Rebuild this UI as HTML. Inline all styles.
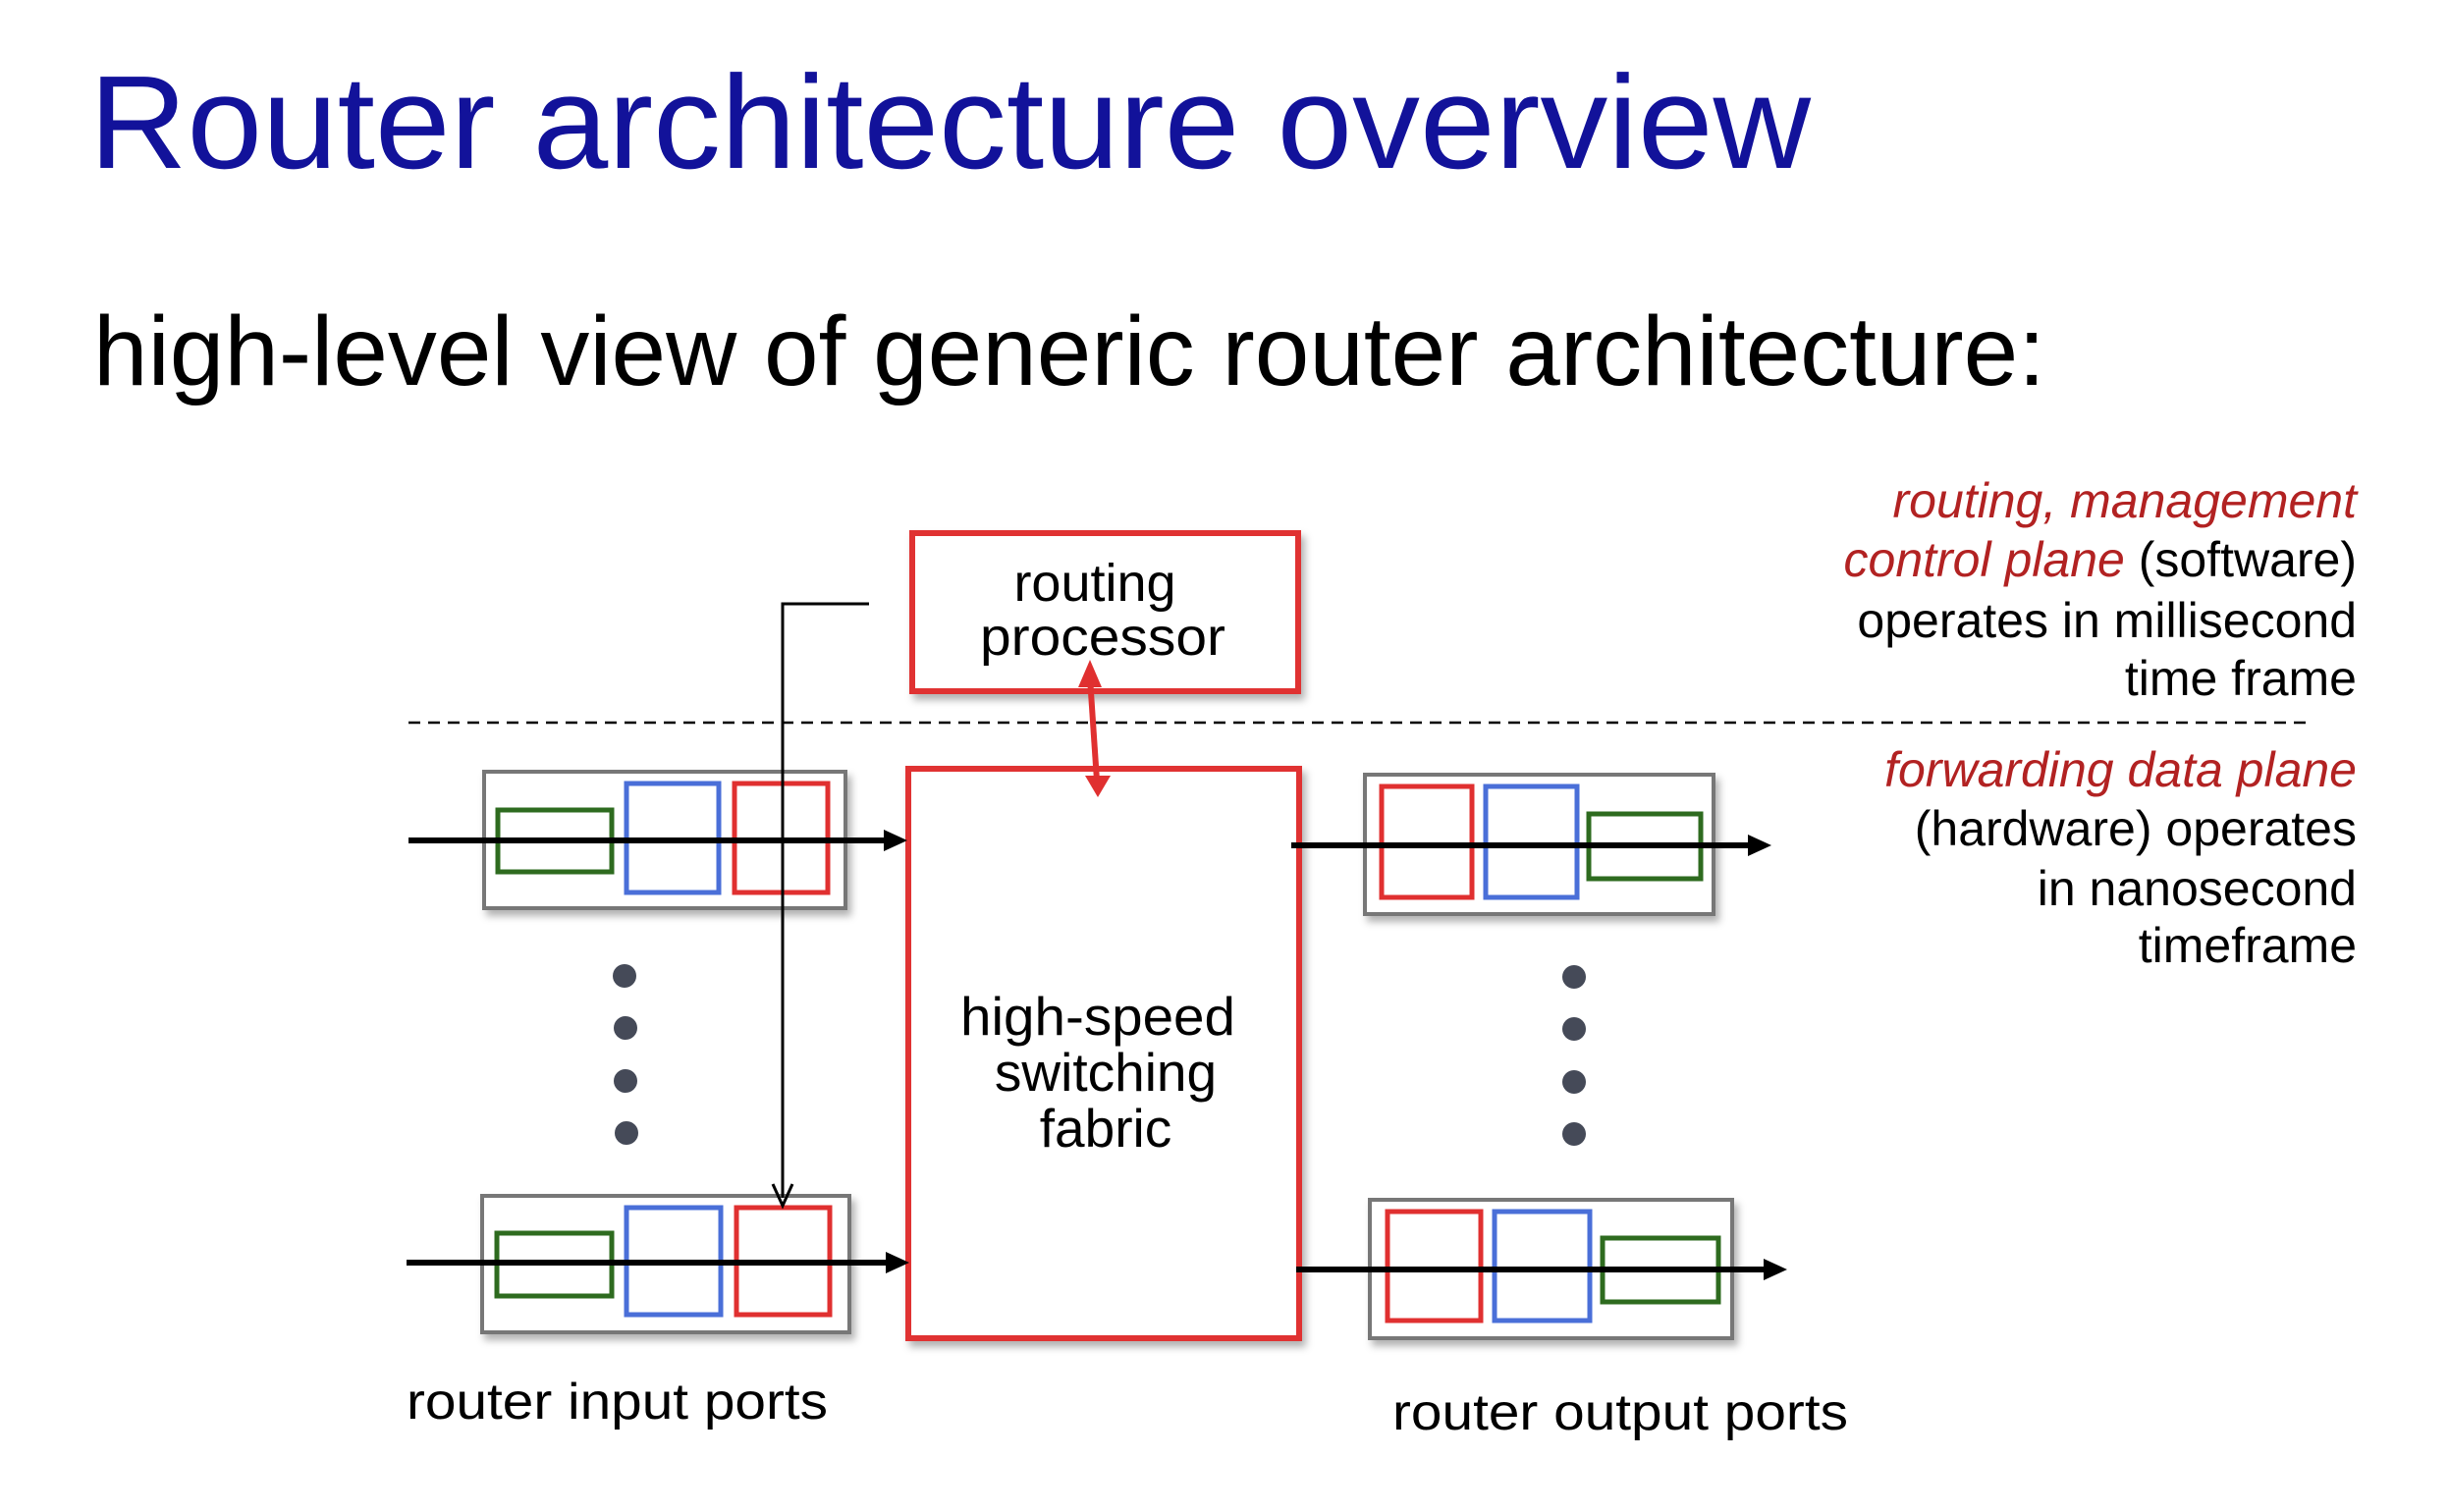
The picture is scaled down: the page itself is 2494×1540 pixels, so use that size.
<!DOCTYPE html>
<html><head><meta charset="utf-8"><style>html,body{margin:0;padding:0;background:#fff}svg{display:block}</style></head>
<body>
<svg width="2494" height="1540" viewBox="0 0 2494 1540" xmlns="http://www.w3.org/2000/svg" font-family="Liberation Sans, sans-serif">
<defs>
<filter id="sh" x="-10%" y="-10%" width="130%" height="130%"><feDropShadow dx="4" dy="6" stdDeviation="4" flood-color="#000" flood-opacity="0.3"/></filter>
</defs>
<text x="91" y="171" font-size="135" fill="#12129a" textLength="1753" lengthAdjust="spacingAndGlyphs">Router architecture overview</text>
<text x="95" y="392" font-size="100" fill="#000" textLength="1988" lengthAdjust="spacingAndGlyphs">high-level view of generic router architecture:</text>

<g font-size="50" text-anchor="end">
<text x="2400" y="527" fill="#b22222" font-style="italic">routing, management</text>
<text x="2400" y="587"><tspan fill="#b22222" font-style="italic">control plane</tspan> (software)</text>
<text x="2400" y="649">operates in millisecond</text>
<text x="2400" y="708">time frame</text>
<text x="2400" y="801" fill="#b22222" font-style="italic">forwarding data plane</text>
<text x="2400" y="861">(hardware) operates</text>
<text x="2400" y="922">in nanosecond</text>
<text x="2400" y="980">timeframe</text>
</g>

<line x1="416" y1="736" x2="2350" y2="736" stroke="#000" stroke-width="2.5" stroke-dasharray="12,8"/>

<!-- routing processor -->
<rect x="929" y="543" width="393" height="161" fill="#fff" stroke="#e03030" stroke-width="6" filter="url(#sh)"/>
<text x="1115" y="612" font-size="54" text-anchor="middle">routing</text>
<text x="1123" y="667" font-size="54" text-anchor="middle" textLength="250" lengthAdjust="spacingAndGlyphs">processor</text>

<!-- fabric -->
<rect x="925" y="783" width="398" height="580" fill="#fff" stroke="#e03030" stroke-width="6" filter="url(#sh)"/>
<text x="1118" y="1054" font-size="55" text-anchor="middle" textLength="280" lengthAdjust="spacingAndGlyphs">high-speed</text>
<text x="1126" y="1111" font-size="55" text-anchor="middle">switching</text>
<text x="1126" y="1168" font-size="55" text-anchor="middle">fabric</text>

<!-- red double arrow -->
<line x1="1110" y1="690" x2="1117" y2="795" stroke="#e03030" stroke-width="6"/>
<path d="M1098,700 L1110,672 L1122,700 z" fill="#e03030"/>
<path d="M1105,790 L1118,812 L1131,790 z" fill="#e03030"/>

<g fill="none" stroke-width="5">
<rect x="493" y="786" width="368" height="139" fill="#fff" stroke="#777" stroke-width="4" filter="url(#sh)"/>
<rect x="507" y="825" width="116" height="63" stroke="#2e6b1f"/>
<rect x="638" y="798" width="94" height="111" stroke="#4a6fd8"/>
<rect x="748" y="798" width="95" height="111" stroke="#e03030"/>
<rect x="491" y="1218" width="374" height="139" fill="#fff" stroke="#777" stroke-width="4" filter="url(#sh)"/>
<rect x="506" y="1256" width="117" height="64" stroke="#2e6b1f"/>
<rect x="638" y="1230" width="96" height="109" stroke="#4a6fd8"/>
<rect x="750" y="1230" width="95" height="109" stroke="#e03030"/>
<rect x="1390" y="789" width="355" height="142" fill="#fff" stroke="#777" stroke-width="4" filter="url(#sh)"/>
<rect x="1407" y="801" width="92" height="113" stroke="#e03030"/>
<rect x="1513" y="801" width="93" height="113" stroke="#4a6fd8"/>
<rect x="1618" y="829" width="114" height="66" stroke="#2e6b1f"/>
<rect x="1395" y="1222" width="369" height="141" fill="#fff" stroke="#777" stroke-width="4" filter="url(#sh)"/>
<rect x="1413" y="1234" width="95" height="111" stroke="#e03030"/>
<rect x="1522" y="1234" width="97" height="111" stroke="#4a6fd8"/>
<rect x="1632" y="1261" width="118" height="65" stroke="#2e6b1f"/>
</g>

<g stroke="#000" stroke-width="6">
<line x1="416" y1="856" x2="905" y2="856"/>
<line x1="414" y1="1286" x2="907" y2="1286"/>
<line x1="1315" y1="861" x2="1785" y2="861"/>
<line x1="1320" y1="1293" x2="1800" y2="1293"/>
</g>
<g fill="#000">
<path d="M900,845 L924,856 L900,867 z"/>
<path d="M902,1275 L926,1286 L902,1297 z"/>
<path d="M1780,850 L1804,861 L1780,872 z"/>
<path d="M1796,1282 L1820,1293 L1796,1304 z"/>
</g>

<polyline points="885,615 797,615 797,1220" fill="none" stroke="#000" stroke-width="3"/>
<path d="M787,1206 L797,1228 L807,1206" fill="none" stroke="#000" stroke-width="3"/>

<g fill="#454a58">
<circle cx="636" cy="994" r="12"/><circle cx="637" cy="1047" r="12"/><circle cx="637" cy="1101" r="12"/><circle cx="638" cy="1154" r="12"/>
<circle cx="1603" cy="995" r="12"/><circle cx="1603" cy="1048" r="12"/><circle cx="1603" cy="1102" r="12"/><circle cx="1603" cy="1155" r="12"/>
</g>

<text x="414" y="1445" font-size="52" textLength="429" lengthAdjust="spacingAndGlyphs">router input ports</text>
<text x="1418" y="1456" font-size="52" textLength="464" lengthAdjust="spacingAndGlyphs">router output ports</text>
</svg>
</body></html>
